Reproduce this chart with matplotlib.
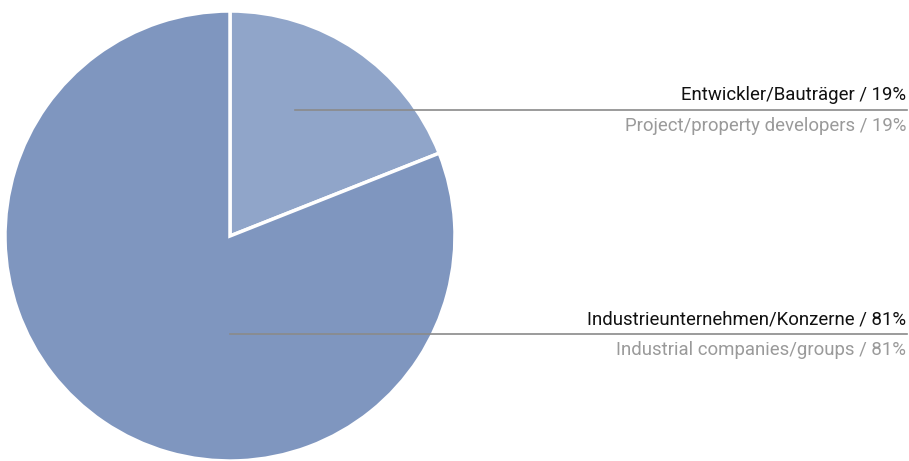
import matplotlib.pyplot as plt

shares = [19, 81]
colors = ['#90a5c9', '#7f96bf']
labels_de = ['Entwickler/Bauträger / 19%', 'Industrieunternehmen/Konzerne / 81%']
labels_en = ['Project/property developers / 19%', 'Industrial companies/groups / 81%']

W, H = 909, 461
fig = plt.figure(figsize=(W / 100, H / 100), dpi=100)
ax = fig.add_axes([0, 0, 1, 1])

cx, cy, r = 230, H - 236, 225
ax.pie(shares, colors=colors, startangle=90, counterclock=False,
       center=(cx, cy), radius=r, frame=True,
       wedgeprops=dict(edgecolor='white', linewidth=2.5))
ax.set_xlim(0, W)
ax.set_ylim(0, H)
ax.set_aspect('equal')
ax.axis('off')

# leader lines with labels above (German) and below (English)
leaders = [(295, 110), (230, 334)]
for (x0, y0), de, en in zip(leaders, labels_de, labels_en):
    y = H - y0
    ax.plot([x0, 907], [y, y], color='#8a8a8a', lw=1.2)
    ax.text(906, y + 6, de, ha='right', va='bottom', fontsize=13.4,
            color='#111111', family='Roboto')
    ax.text(906, y - 7, en, ha='right', va='top', fontsize=13.4,
            color='#9a9a9a', family='Roboto')

fig.savefig('out.png', dpi=100)
